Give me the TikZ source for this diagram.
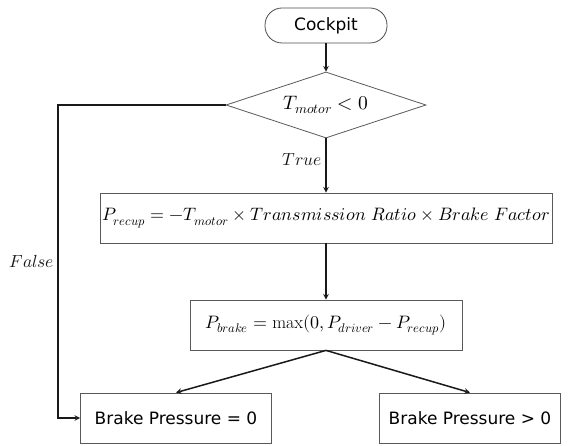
\documentclass[tikz,border=0pt]{standalone}
\usepackage{fontspec}
\usepackage{unicode-math}
\setmathfont{Latin Modern Math}
\newfontfamily\boxfont{DejaVu Sans}
\usetikzlibrary{shapes, arrows, positioning, calc}

\begin{document}
\begin{tikzpicture}[
    node distance=100pt,
    auto,
    >=stealth,
    block/.style={rectangle, draw=black!65, line width=0.8pt, text centered, minimum height=50pt, inner sep=2pt},
    terminal/.style={rectangle, draw=black!70, line width=0.8pt, rounded corners=17pt, minimum width=122pt, minimum height=35pt, font=\boxfont\fontsize{17}{20}\selectfont},
    decision/.style={diamond, draw=black!65, line width=0.8pt, aspect=3, minimum width=200pt, minimum height=66pt, inner sep=0pt, font=\fontsize{19.5}{22}\selectfont},
    result/.style={block, font=\boxfont\fontsize{17}{20}\selectfont},
    mathbox/.style={block, font=\fontsize{18}{21}\selectfont},
    line/.style={draw, ->, line width=1.5pt, black!90},
    lbl/.style={font=\fontsize{17.5}{20}\selectfont}
]
    \useasboundingbox (0,0) rectangle (570pt,-446pt);

    % Nodes
    \node [terminal] at (326pt,-25.5pt) (cockpit) {Cockpit};

    \node [decision, below of=cockpit, node distance=79.5pt] (torque) {$T_{motor} < 0$};

    \node [mathbox, below of=torque, node distance=113pt, minimum width=452pt] (recup) {$P_{recup} = -T_{motor} \times Transmission\ Ratio \times Brake\ Factor$};

    \node [mathbox, below of=recup, node distance=107pt, minimum width=272pt] (brake) {$P_{brake} = \max(0, P_{driver} - P_{recup})$};

    \node [result, below of=brake, node distance=93pt, xshift=-150pt, minimum width=191pt] (zero) {Brake Pressure = 0};

    \node [result, below of=brake, node distance=93pt, xshift=144pt, minimum width=181pt] (positive) {Brake Pressure > 0};

    \coordinate (falsex) at (58pt,-105pt);

    % Connections
    \path [line] (cockpit) -- (torque);
    \path [line] (torque) -- node [lbl, left, pos=0.4] {$True$} (recup);
    \path [line] (recup) -- (brake);
    \path [line] (brake.south) -- (zero.north);
    \path [line] (brake.south) -- (positive.north);
    \path [line] (torque.west) -- (falsex) |- node [lbl, left, pos=0.25] {$False$} (zero.west);

\end{tikzpicture}
\end{document}
